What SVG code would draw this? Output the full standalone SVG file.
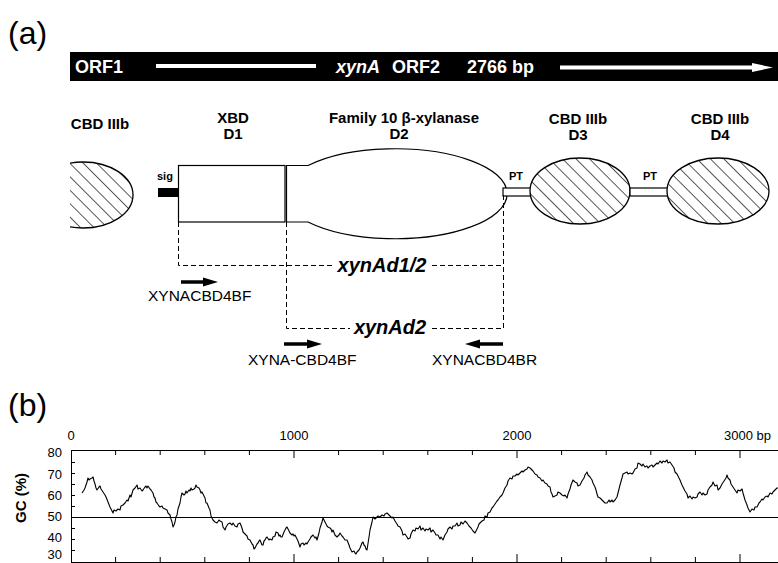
<svg xmlns="http://www.w3.org/2000/svg" width="778" height="563" viewBox="0 0 778 563">
<style>
text{font-family:"Liberation Sans",Arial,Helvetica,sans-serif;fill:#000}
.panel{font-size:32px}
.hdr{font-size:18px;font-weight:bold;fill:#fff}
.lbl{font-size:15px;font-weight:bold;text-anchor:middle}
.sm{font-size:11px;font-weight:bold}
.prm{font-size:15.5px}
.cut{font-size:20px;font-weight:bold;font-style:italic;text-anchor:middle}
.ax{font-size:13px}
.dom{fill:#fff;stroke:#000;stroke-width:1.2}
.hat{fill:url(#hatch);stroke:#000;stroke-width:1.3}
.dash{fill:none;stroke:#000;stroke-width:1;stroke-dasharray:5,3}
.pa{stroke:#000;stroke-width:3.5}
.tk{stroke:#000;stroke-width:1}
</style>
<defs>
<pattern id="hatch" width="9.5" height="9.5" patternUnits="userSpaceOnUse" patternTransform="rotate(-45)">
<rect width="9.5" height="9.5" fill="#fff"/>
<line x1="0" y1="0" x2="0" y2="9.5" stroke="#000" stroke-width="1.3"/>
</pattern>
<clipPath id="clipL"><rect x="70" y="150" width="100" height="100"/></clipPath>
</defs>
<rect width="778" height="563" fill="#fff"/>

<text class="panel" x="8" y="44">(a)</text>

<g id="orfbar">
<rect x="70" y="52" width="710" height="29" fill="#000"/>
<text class="hdr" x="75" y="73">ORF1</text>
<line x1="156" y1="66" x2="316" y2="66" stroke="#fff" stroke-width="4"/>
<text class="hdr" x="336" y="73" font-style="italic">xynA</text>
<text class="hdr" x="392" y="73">ORF2</text>
<text class="hdr" x="467" y="73">2766 bp</text>
<line x1="560" y1="67.5" x2="755" y2="67.5" stroke="#fff" stroke-width="4"/>
<polygon points="752,63 773,67.5 752,72" fill="#fff"/>
</g>

<g id="cbd-left">
<text class="lbl" x="100" y="129">CBD IIIb</text>
<ellipse class="hat" cx="83" cy="195" rx="50" ry="33" clip-path="url(#clipL)"/>
</g>

<g id="sig">
<rect x="158" y="188" width="20" height="9" fill="#000"/>
<text class="sm" x="157" y="180">sig</text>
</g>

<g id="d1">
<text class="lbl" x="233" y="123">XBD</text>
<text class="lbl" x="233" y="139">D1</text>
<rect class="dom" x="178.5" y="165.5" width="106.5" height="56.5"/>
</g>

<g id="d2">
<text class="lbl" x="404" y="123">Family 10 β-xylanase</text>
<text class="lbl" x="399" y="139">D2</text>
<path class="dom" d="M286.5,165.5 L308,165.5 A112,45 0 1 1 308,222 L286.5,222 Z"/>
</g>

<g id="pt1">
<rect x="503" y="188" width="28" height="8" fill="#fff" stroke="#000" stroke-width="1.2"/>
<text class="sm" x="509" y="180">PT</text>
</g>

<g id="d3">
<text class="lbl" x="578" y="124">CBD IIIb</text>
<text class="lbl" x="578" y="140">D3</text>
<ellipse class="hat" cx="580" cy="191" rx="50" ry="33"/>
</g>

<g id="pt2">
<rect x="630" y="188" width="38" height="8" fill="#fff" stroke="#000" stroke-width="1.2"/>
<text class="sm" x="643" y="180">PT</text>
</g>

<g id="d4">
<text class="lbl" x="720" y="124">CBD IIIb</text>
<text class="lbl" x="720" y="140">D4</text>
<ellipse class="hat" cx="718" cy="191" rx="51" ry="33"/>
</g>

<g id="connectors">
<path class="dash" d="M178.5,222 V265.5 H333"/>
<path class="dash" d="M432,265.5 H503.5"/>
<path class="dash" d="M503.5,195 V328.5 H430"/>
<path class="dash" d="M286.5,222 V328.5 H350"/>
</g>

<g id="xynAd12">
<text class="cut" x="382" y="272">xynAd1/2</text>
</g>
<g id="xynAd2">
<text class="cut" x="390" y="334">xynAd2</text>
</g>

<g id="primer1">
<line class="pa" x1="181" y1="282" x2="206" y2="282"/>
<polygon points="203,277.5 218,282 203,286.5"/>
<text class="prm" x="148" y="301">XYNACBD4BF</text>
</g>
<g id="primer2">
<line class="pa" x1="284" y1="344" x2="310" y2="344"/>
<polygon points="307,339.5 322,344 307,348.5"/>
<text class="prm" x="248" y="365">XYNA-CBD4BF</text>
</g>
<g id="primer3">
<line class="pa" x1="477" y1="344" x2="503" y2="344"/>
<polygon points="480,339.5 465,344 480,348.5"/>
<text class="prm" x="432" y="365">XYNACBD4BR</text>
</g>

<text class="panel" x="8" y="416">(b)</text>

<g id="gcplot">
<text class="ax" x="71" y="440" text-anchor="middle">0</text>
<text class="ax" x="294" y="440" text-anchor="middle">1000</text>
<text class="ax" x="517" y="440" text-anchor="middle">2000</text>
<text class="ax" x="724" y="440">3000 bp</text>
<text class="ax" x="62" y="457" text-anchor="end">80</text>
<text class="ax" x="62" y="478.5" text-anchor="end">70</text>
<text class="ax" x="62" y="500" text-anchor="end">60</text>
<text class="ax" x="62" y="521" text-anchor="end">50</text>
<text class="ax" x="62" y="542" text-anchor="end">40</text>
<text class="ax" x="62" y="559" text-anchor="end">30</text>
<text x="0" y="0" font-size="15" font-weight="bold" text-anchor="middle" transform="translate(26,498) rotate(-90)">GC (%)</text>
<path class="tk" d="M71,450.5 H778 M71.5,450 V563 M71,517.5 H778 M71,562.5 H778"/>
<path class="tk" d="M115.6,450v5 M160.2,450v5 M204.8,450v5 M249.4,450v5 M294,450v8 M338.6,450v5 M383.2,450v5 M427.8,450v5 M472.4,450v5 M517,450v8 M561.6,450v5 M606.2,450v5 M650.8,450v5 M695.4,450v5 M740,450v8
M115.6,562v-5 M160.2,562v-5 M204.8,562v-5 M249.4,562v-5 M294,562v-8 M338.6,562v-5 M383.2,562v-5 M427.8,562v-5 M472.4,562v-5 M517,562v-8 M561.6,562v-5 M606.2,562v-5 M650.8,562v-5 M695.4,562v-5 M740,562v-8
M71,462.5h4 M71,473.5h4 M71,484.5h4 M71,495.5h4 M71,506.5h4 M71,528.5h4 M71,539.5h4 M71,550.5h4"/>
<polyline fill="none" stroke="#000" stroke-width="1.1" stroke-linejoin="round" points="82,493 84,490 85,488 87,482 88,478 89,480 90,479 92,478 93,477 94,481 95,484 96,488 97,490 99,487 100,486 101,489 103,492 105,495 106,497 108,502 110,507 112,511 113,513 114,510 116,511 118,509 120,510 121,506 123,505 125,503 127,500 128,501 130,495 131,497 133,490 135,488 137,485 138,489 140,488 142,491 143,490 145,487 146,486 147,488 148,486 150,489 151,490 153,493 154,497 155,498 156,502 157,503 159,506 160,507 162,506 163,508 165,509 167,510 168,513 170,515 171,519 172,522 173,527 174,525 175,522 176,517 177,515 178,509 180,503 181,497 182,493 184,495 185,494 186,491 187,493 189,490 190,491 191,488 192,490 194,489 195,488 196,485 197,487 199,488 200,490 201,493 202,492 204,496 205,498 206,503 207,503 209,508 210,510 211,516 213,520 215,522 217,523 219,520 220,521 222,522 223,527 225,530 226,527 228,524 230,523 232,525 233,523 235,526 237,527 238,524 240,523 242,528 243,532 245,534 247,536 248,539 250,540 252,544 253,545 254,549 255,548 257,544 258,543 259,541 260,540 262,545 263,545 264,541 265,540 266,538 267,537 269,540 270,539 272,540 273,537 275,536 276,532 278,533 279,536 280,535 281,537 282,537 284,532 285,530 286,528 287,527 289,531 290,533 292,535 293,534 294,536 295,535 297,539 298,541 300,547 301,544 303,543 304,545 306,543 307,544 308,542 310,539 311,537 312,536 313,535 315,538 316,537 317,540 319,533 320,528 322,522 323,518 325,522 326,524 327,526 328,527 330,528 331,529 332,532 333,530 335,535 336,536 337,537 339,535 340,533 342,536 343,537 345,540 347,540 349,545 350,548 351,550 352,552 354,551 355,553 356,554 357,552 359,550 360,548 362,543 363,542 364,545 365,546 366,549 367,550 369,537 370,530 372,522 373,517 375,519 376,518 378,516 380,517 382,515 384,516 385,514 387,513 389,515 390,516 392,518 393,517 395,521 397,524 398,526 400,527 402,531 403,535 405,534 407,537 408,539 410,538 411,534 413,530 415,531 416,528 418,529 420,526 421,530 423,528 425,531 426,529 428,530 430,528 431,532 433,530 435,533 436,535 438,535 440,539 441,537 443,540 445,535 447,532 448,529 450,527 452,529 453,526 455,526 457,523 458,526 460,525 461,522 463,524 465,521 467,523 469,526 471,528 473,531 475,533 477,529 478,527 479,524 480,523 482,521 484,520 485,516 487,517 488,513 490,512 492,508 493,507 495,504 497,501 498,500 500,497 502,495 503,493 505,488 507,485 508,481 510,478 512,479 513,476 515,476 517,474 518,475 520,473 522,471 523,472 525,470 527,469 528,467 530,468 532,470 533,471 535,474 537,475 538,477 540,478 542,481 543,480 545,483 547,484 548,486 550,487 551,492 552,494 553,497 555,496 557,495 558,492 560,493 562,495 564,496 565,495 567,498 568,494 570,489 571,485 573,480 575,482 577,483 578,486 580,485 582,481 584,478 585,475 587,472 588,475 590,477 592,480 593,483 595,487 596,490 597,494 598,497 600,498 602,500 603,501 605,503 607,503 609,500 610,502 612,500 613,502 615,500 617,497 618,493 620,485 622,478 623,474 625,473 627,472 628,474 630,473 632,474 633,473 635,469 637,468 638,463 640,464 642,466 643,464 645,467 647,466 648,468 650,466 652,465 653,467 655,465 657,463 658,464 660,461 662,463 663,461 665,462 667,460 668,463 670,462 672,465 674,468 675,472 677,474 679,478 680,480 682,485 684,489 685,491 687,494 688,498 690,496 692,499 693,497 695,498 697,497 698,494 700,492 702,495 703,493 705,495 707,494 708,490 710,487 712,485 713,482 715,486 717,485 718,490 720,488 722,484 724,481 726,478 727,475 728,478 730,480 731,484 733,487 735,490 737,493 738,490 740,491 742,489 743,493 745,500 747,505 748,508 750,512 752,509 754,510 755,507 757,507 759,503 760,502 762,499 763,500 765,497 767,496 768,497 770,493 772,494 773,492 775,490 777,488 778,488"/>
</g>
</svg>
